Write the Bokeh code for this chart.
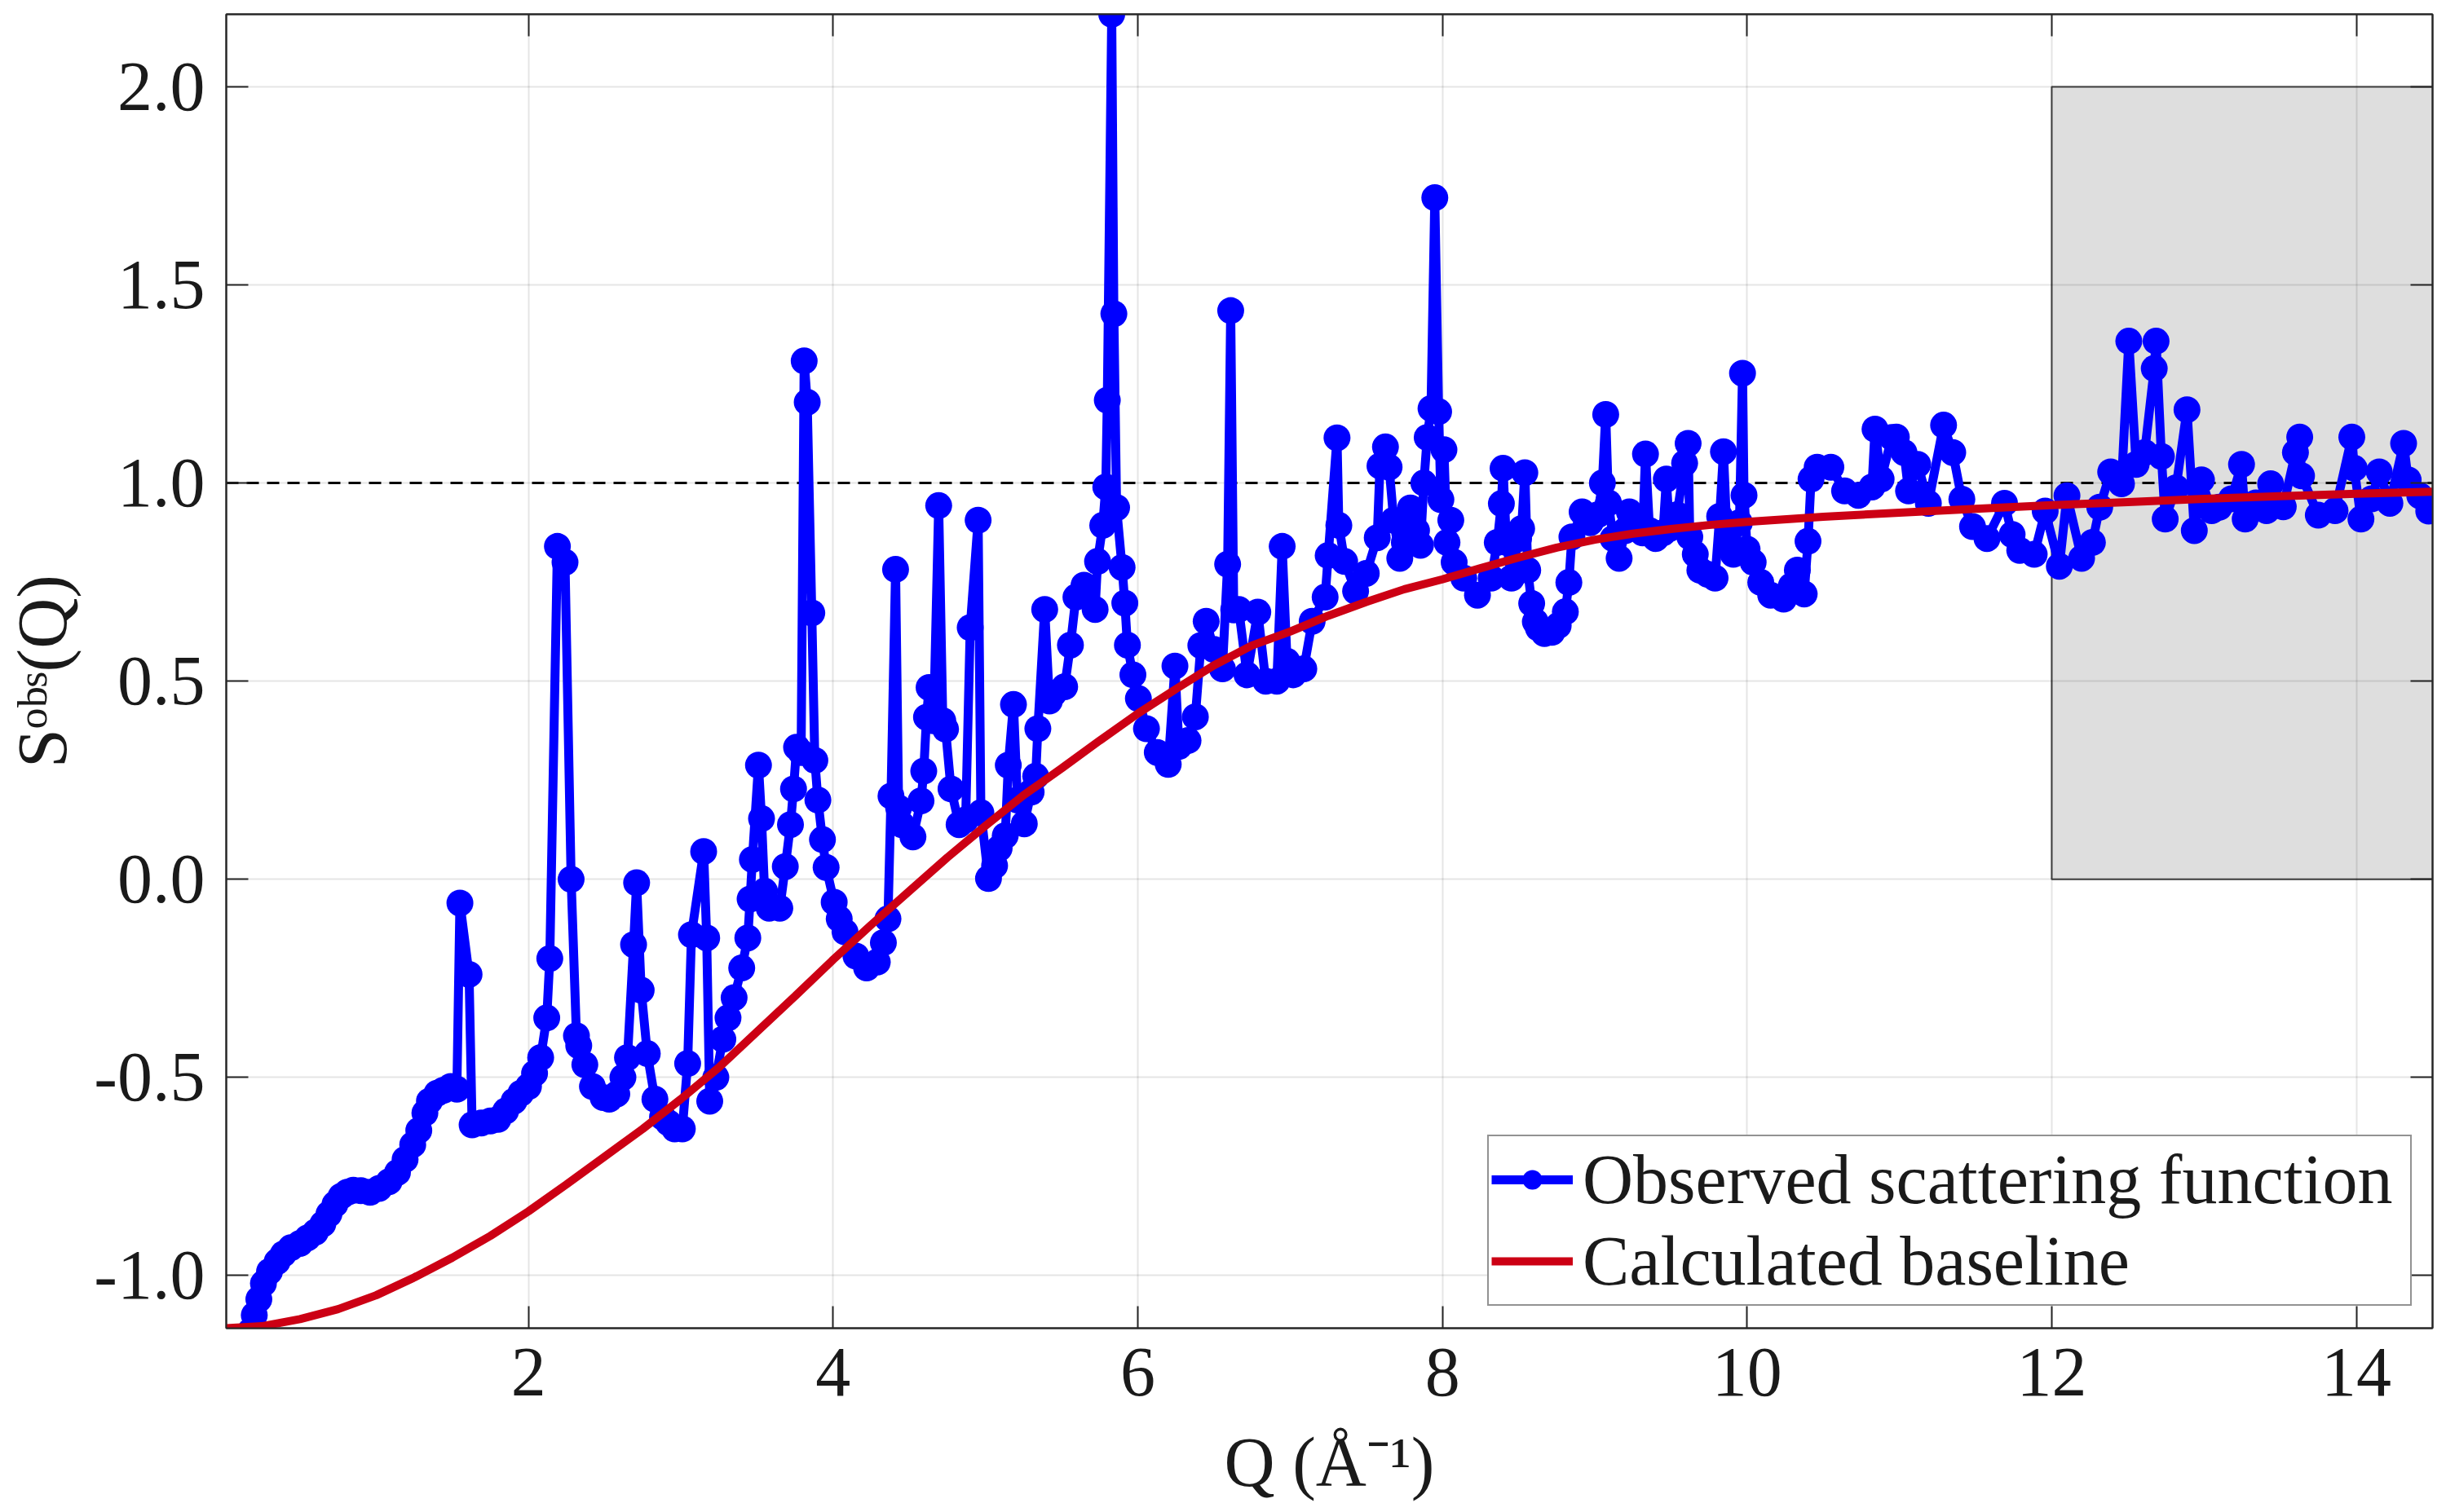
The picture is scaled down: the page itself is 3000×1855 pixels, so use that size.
from bokeh.plotting import figure
from bokeh.models import (Range1d, FixedTicker, LinearAxis, Legend, LegendItem,
                          CustomJSTickFormatter)
from bokeh.embed import file_html
from bokeh.resources import INLINE

# ---------------- data ----------------
q_obs = [0.176, 0.20, 0.23, 0.26, 0.30, 0.35, 0.39, 0.44, 0.50, 0.55, 0.60, 0.65, 0.69, 0.73, 0.77, 0.81, 0.85, 0.90, 0.96, 1.02,
         1.085, 1.14, 1.19, 1.24, 1.28, 1.32, 1.35, 1.40, 1.44, 1.49, 1.53, 1.55, 1.61, 1.63, 1.69, 1.75, 1.80, 1.85, 1.905, 1.95,
         2.00, 2.04, 2.08, 2.12, 2.14, 2.19, 2.24, 2.28, 2.315, 2.33, 2.37, 2.42, 2.49, 2.53, 2.58, 2.62, 2.65, 2.69, 2.71, 2.74,
         2.78, 2.83, 2.88, 2.92, 2.96, 3.01, 3.045, 3.07, 3.15, 3.17, 3.19, 3.23, 3.276, 3.31, 3.35, 3.40, 3.44, 3.455, 3.47, 3.51,
         3.53, 3.55, 3.58, 3.65, 3.686, 3.72, 3.74, 3.76, 3.79, 3.81, 3.83, 3.86, 3.88, 3.90, 3.93, 3.954, 4.007, 4.04, 4.078, 4.15,
         4.22, 4.29, 4.33, 4.36, 4.38, 4.41, 4.43, 4.45, 4.524, 4.577, 4.595, 4.613, 4.63, 4.66, 4.693, 4.72, 4.738, 4.774, 4.827, 4.87,
         4.90, 4.952, 4.97, 5.02, 5.06, 5.09, 5.13, 5.15, 5.184, 5.21, 5.255, 5.30, 5.33, 5.344, 5.389, 5.42, 5.45, 5.52, 5.558, 5.594,
         5.647, 5.72, 5.736, 5.77, 5.79, 5.80, 5.829, 5.843, 5.861, 5.897, 5.915, 5.932, 5.968, 6.004, 6.057, 6.128, 6.2, 6.244, 6.27, 6.33,
         6.378, 6.414, 6.449, 6.50, 6.556, 6.59, 6.61, 6.63, 6.663, 6.717, 6.788, 6.84, 6.913, 6.948, 6.98, 7.02, 7.09, 7.145, 7.23, 7.25,
         7.308, 7.32, 7.358, 7.43, 7.5, 7.572, 7.59, 7.626, 7.65, 7.68, 7.72, 7.75, 7.79, 7.83, 7.856, 7.878, 7.90, 7.925, 7.95, 7.975,
         7.99, 8.01, 8.03, 8.055, 8.077, 8.14, 8.23, 8.32, 8.36, 8.387, 8.398, 8.42, 8.453, 8.50, 8.52, 8.541, 8.56, 8.586, 8.61, 8.63,
         8.67, 8.718, 8.76, 8.807, 8.83, 8.85, 8.917, 8.97, 9.02, 9.05, 9.072, 9.09, 9.12, 9.16, 9.2, 9.227, 9.27, 9.315, 9.333, 9.36,
         9.40, 9.448, 9.47, 9.49, 9.54, 9.59, 9.613, 9.624, 9.66, 9.69, 9.74, 9.79, 9.82, 9.845, 9.87, 9.91, 9.95, 9.97, 9.98, 10.0,
         10.04, 10.09, 10.155, 10.24, 10.29, 10.33, 10.375, 10.40, 10.42, 10.46, 10.55, 10.64, 10.73, 10.82, 10.84, 10.88, 10.95, 10.98, 11.03, 11.06,
         11.12, 11.19, 11.29, 11.35, 11.41, 11.48, 11.575, 11.69, 11.74, 11.79, 11.885, 11.957, 12.05, 12.1, 12.196, 12.267, 12.315, 12.387, 12.458, 12.506,
         12.554, 12.61, 12.673, 12.685, 12.72, 12.745, 12.816, 12.888, 12.936, 12.983, 13.05, 13.1, 13.18, 13.246, 13.27, 13.34, 13.41, 13.437, 13.52, 13.60,
         13.628, 13.64, 13.75, 13.86, 13.97, 13.986, 14.03, 14.10, 14.15, 14.22, 14.31, 14.34, 14.416, 14.475]
s_obs = [-1.14, -1.10, -1.06, -1.02, -0.99, -0.965, -0.946, -0.93, -0.919, -0.905, -0.891, -0.87, -0.845, -0.82, -0.80, -0.79, -0.785, -0.786, -0.79, -0.78,
         -0.763, -0.74, -0.707, -0.67, -0.634, -0.59, -0.56, -0.54, -0.533, -0.523, -0.53, -0.06, -0.24, -0.62, -0.615, -0.61, -0.606, -0.585, -0.56, -0.54,
         -0.523, -0.49, -0.45, -0.35, -0.20, 0.84, 0.80, 0.0, -0.395, -0.42, -0.468, -0.523, -0.551, -0.555, -0.542, -0.50, -0.45, -0.165, -0.009, -0.28,
         -0.44, -0.555, -0.60, -0.615, -0.63, -0.63, -0.465, -0.14, 0.07, -0.148, -0.56, -0.50, -0.404, -0.35, -0.299, -0.224, -0.148, -0.05, 0.05, 0.288,
         0.153, -0.03, -0.073, -0.073, 0.032, 0.138, 0.228, 0.333, 0.32, 1.308, 1.204, 0.672, 0.30, 0.20, 0.10, 0.03, -0.058, -0.10, -0.133, -0.194,
         -0.224, -0.209, -0.16, -0.10, 0.21, 0.782, 0.18, 0.138, 0.107, 0.198, 0.273, 0.409, 0.484, 0.40, 0.943, 0.40, 0.379, 0.228, 0.138, 0.15,
         0.635, 0.906, 0.168, 0.002, 0.034, 0.078, 0.11, 0.288, 0.441, 0.2, 0.14, 0.22, 0.26, 0.38, 0.681, 0.45, 0.47, 0.486, 0.591, 0.712,
         0.742, 0.681, 0.802, 0.893, 0.99, 1.209, 2.183, 1.427, 0.938, 0.787, 0.697, 0.591, 0.516, 0.456, 0.38, 0.32, 0.29, 0.538, 0.335, 0.35,
         0.41, 0.59, 0.651, 0.58, 0.531, 0.795, 1.435, 0.68, 0.681, 0.516, 0.674, 0.5, 0.5, 0.84, 0.55, 0.516, 0.531, 0.651, 0.712, 0.817,
         1.114, 0.893, 0.802, 0.727, 0.772, 0.862, 1.043, 1.091, 1.04, 0.906, 0.81, 0.85, 0.937, 0.88, 0.843, 1.0, 1.115, 1.188, 1.72, 1.18,
         0.958, 1.084, 0.85, 0.906, 0.80, 0.76, 0.717, 0.76, 0.85, 0.948, 1.037, 0.85, 0.76, 0.86, 0.885, 1.026, 0.78, 0.696, 0.65, 0.634,
         0.62, 0.623, 0.64, 0.675, 0.749, 0.864, 0.927, 0.90, 0.92, 1.0, 1.173, 0.95, 0.86, 0.81, 0.88, 0.927, 0.90, 0.874, 1.073, 0.88,
         0.86, 0.874, 1.01, 0.885, 0.92, 1.05, 1.10, 0.864, 0.82, 0.78, 0.77, 0.76, 0.916, 1.079, 0.85, 0.82, 0.90, 1.277, 0.969, 0.833,
         0.80, 0.749, 0.717, 0.707, 0.74, 0.78, 0.72, 0.853, 1.01, 1.04, 1.04, 0.98, 0.969, 0.99, 1.136, 1.01, 1.115, 1.116, 1.077, 0.98,
         1.047, 0.949, 1.146, 1.077, 0.959, 0.89, 0.86, 0.949, 0.87, 0.83, 0.82, 0.929, 0.79, 0.968, 0.81, 0.85, 0.939, 1.028, 0.998, 1.358,
         1.047, 1.077, 1.289, 1.358, 1.067, 0.909, 0.988, 1.185, 0.88, 1.008, 0.93, 0.939, 0.96, 1.047, 0.909, 0.95, 0.93, 0.998, 0.94, 1.077,
         1.116, 1.018, 0.919, 0.93, 1.116, 1.037, 0.909, 0.96, 1.028, 0.949, 1.10, 1.008, 0.968, 0.929]

q_base = [0.016, 0.25, 0.5, 0.75, 1.0, 1.25, 1.5, 1.75, 2.0, 2.25, 2.5, 2.75, 3.0, 3.25, 3.5, 3.75, 4.0, 4.25, 4.5, 4.75,
          5.0, 5.25, 5.5, 5.75, 6.0, 6.25, 6.5, 6.75, 7.0, 7.25, 7.5, 7.75, 8.0, 8.25, 8.5, 8.75, 9.0, 9.25, 9.5, 9.75,
          10.0, 10.5, 11.0, 11.5, 12.0, 12.5, 13.0, 13.5, 14.0, 14.5]
s_base = [-1.133, -1.128, -1.110, -1.085, -1.050, -1.005, -0.955, -0.900, -0.838, -0.770, -0.700, -0.630, -0.555, -0.475, -0.385, -0.295, -0.203, -0.115, -0.030, 0.055,
          0.135, 0.212, 0.280, 0.350, 0.418, 0.480, 0.540, 0.590, 0.625, 0.665, 0.700, 0.732, 0.757, 0.785, 0.812, 0.837, 0.857, 0.872, 0.884, 0.894,
          0.902, 0.915, 0.925, 0.935, 0.944, 0.952, 0.960, 0.967, 0.973, 0.978]

shade_q = [12.0, 14.5]      # shaded region (Q)
shade_s = [0.0, 2.0]        # shaded region (S)
ref_level = 1.0             # dashed reference level
q_lim = [0.016, 14.5]
s_lim = [-1.133, 2.183]
x_ticks = [2, 4, 6, 8, 10, 12, 14]
y_ticks = [-1.0, -0.5, 0.0, 0.5, 1.0, 1.5, 2.0]
y_tick_labels = ["-1.0", "-0.5", "0.0", "0.5", "1.0", "1.5", "2.0"]
labels = ["Observed scattering function", "Calculated baseline"]
x_title = "Q (Å⁻¹)"
y_title = "Sᵒᵇˢ(Q)"

# ---------------- figure ----------------
FONT = "Liberation Serif"
AX = "#262626"
TXT = "#1a1a1a"

p = figure(width=2990, height=1846, output_backend="svg", toolbar_location=None,
           x_range=Range1d(*q_lim), y_range=Range1d(*s_lim),
           min_border_left=277, min_border_right=7, min_border_top=17, min_border_bottom=217)
p.background_fill_color = "white"
p.border_fill_color = "white"
p.outline_line_color = AX
p.outline_line_width = 2

xt = FixedTicker(ticks=x_ticks, minor_ticks=[])
yt = FixedTicker(ticks=y_ticks, minor_ticks=[])

for ax in (p.xaxis[0], p.yaxis[0]):
    ax.axis_line_color = AX
    ax.axis_line_width = 2
    ax.major_tick_line_color = AX
    ax.major_tick_line_width = 2
    ax.major_tick_in = 27
    ax.major_tick_out = 0
    ax.minor_tick_line_color = None
    ax.major_label_text_font = FONT
    ax.major_label_text_font_size = "86px"
    ax.major_label_text_color = TXT
    ax.axis_label_text_font = FONT
    ax.axis_label_text_font_size = "86px"
    ax.axis_label_text_font_style = "normal"
    ax.axis_label_text_color = TXT

p.xaxis[0].ticker = xt
p.yaxis[0].ticker = yt
p.yaxis[0].major_label_overrides = {t: l for t, l in zip(y_ticks, y_tick_labels)}
p.xaxis[0].major_label_standoff = 25
p.yaxis[0].major_label_standoff = 26
p.xaxis[0].axis_label = x_title
p.yaxis[0].axis_label = y_title
p.xaxis[0].axis_label_standoff = 31
p.yaxis[0].axis_label_standoff = 12

blank = CustomJSTickFormatter(code="return ''")
for loc, tk in (("above", xt), ("right", yt)):
    a = LinearAxis(ticker=tk, formatter=blank, axis_line_color=AX, axis_line_width=2,
                   major_tick_line_color=AX, major_tick_line_width=2,
                   major_tick_in=27, major_tick_out=0, minor_tick_line_color=None,
                   major_label_standoff=0, major_label_text_font_size="1px")
    p.add_layout(a, loc)

p.xgrid.ticker = xt
p.ygrid.ticker = yt
for g in (p.xgrid, p.ygrid):
    g.grid_line_color = "black"
    g.grid_line_alpha = 0.1
    g.grid_line_width = 2

# shaded region (below grid)
p.quad(left=[shade_q[0]], right=[shade_q[1]], bottom=[shade_s[0]], top=[shade_s[1]],
       fill_color="#dedede", line_color="#444444", line_width=2, level="image")

# dashed reference line
p.line(x=q_lim, y=[ref_level, ref_level], line_color="black", line_width=3, line_dash="15 10")

# observed
r_obs_l = p.line(q_obs, s_obs, line_color="#0000ff", line_width=11)
r_obs_m = p.scatter(q_obs, s_obs, marker="circle", size=33, fill_color="#0000ff", line_color=None)

# baseline
r_base = p.line(q_base, s_base, line_color="#cc0014", line_width=10)

legend = Legend(items=[LegendItem(label=labels[0], renderers=[r_obs_l, r_obs_m]),
                       LegendItem(label=labels[1], renderers=[r_base])],
                location=(1547, 27))
legend.label_text_font = FONT
legend.label_text_font_size = "86px"
legend.label_text_color = TXT
legend.glyph_width = 100
legend.glyph_height = 60
legend.label_standoff = 12
legend.label_width = 1012
legend.padding = 3
legend.spacing = 0
legend.margin = 0
legend.border_line_color = AX
legend.border_line_width = 2
legend.background_fill_color = "white"
legend.background_fill_alpha = 1.0
p.add_layout(legend, "center")

open("out.html", "w").write(file_html(p, INLINE))
